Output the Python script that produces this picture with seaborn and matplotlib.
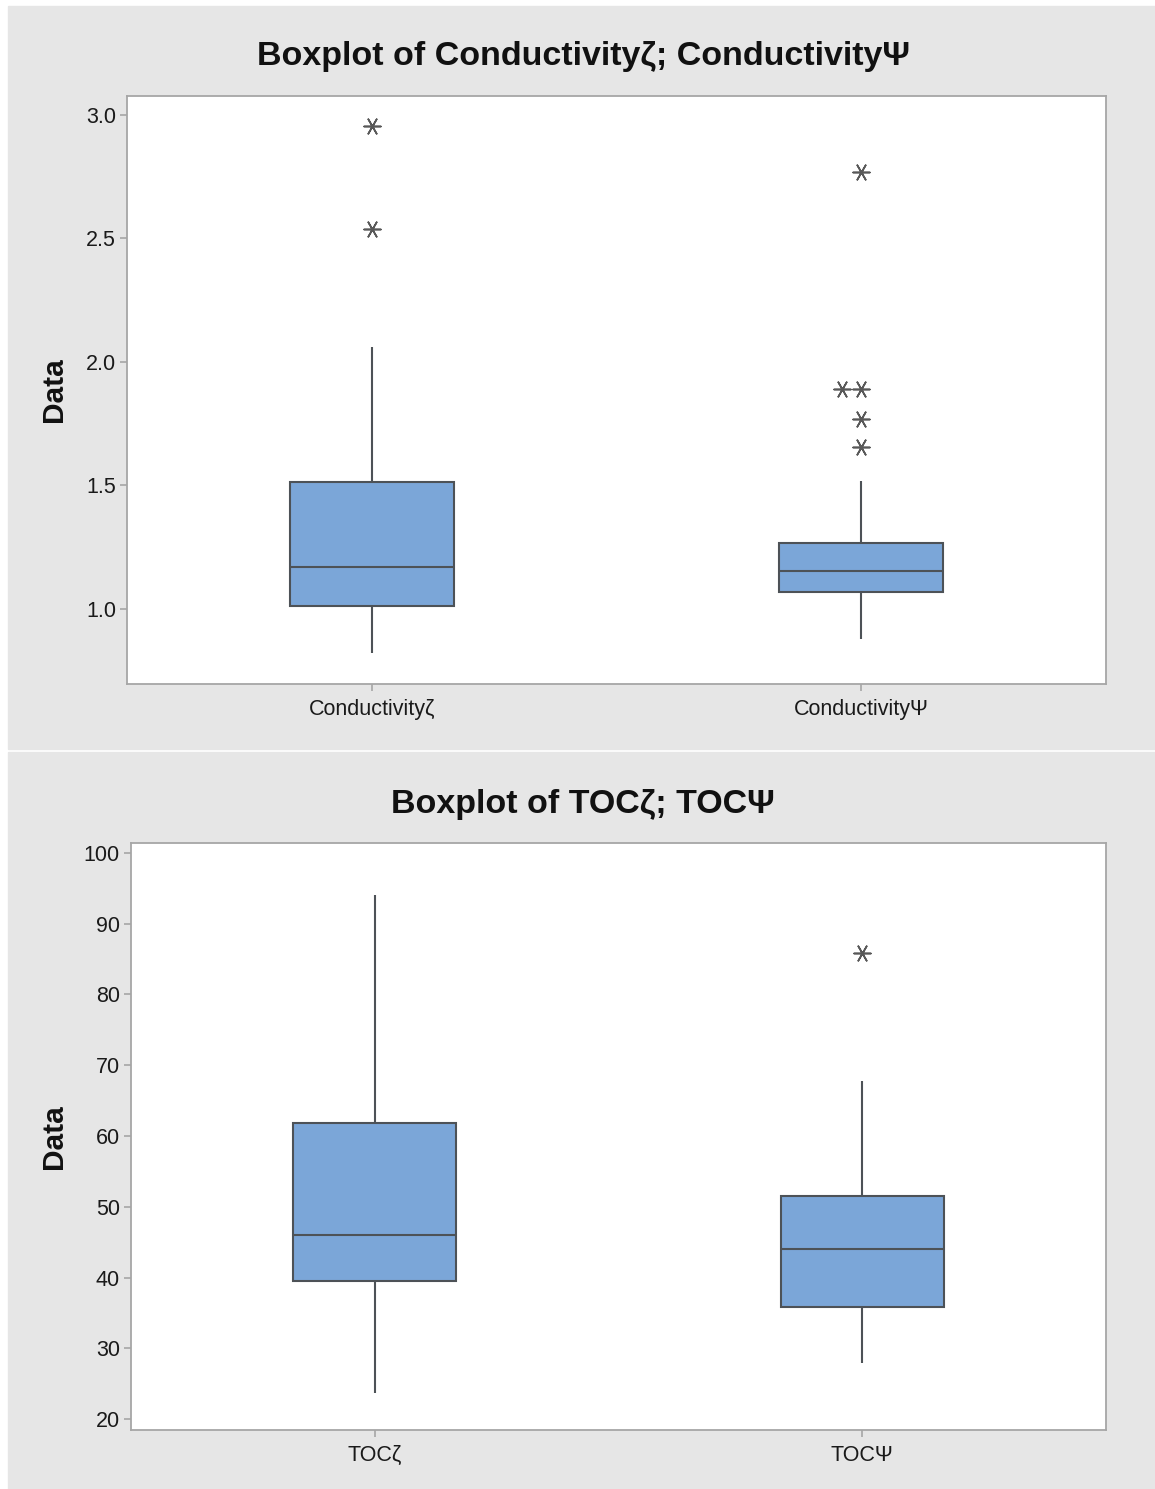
import numpy as np
import pandas as pd
import seaborn as sns
import matplotlib.pyplot as plt
from matplotlib.patches import Rectangle

# values (hand-picked so the quartiles / whiskers match)
cond_names = ['Conductivityζ', 'ConductivityΨ']
cond_zeta = [0.82, 0.93, 0.98, 1.012, 1.08, 1.13, 1.17, 1.24, 1.36, 1.514,
             2.06, 2.54, 2.955]
cond_psi = [0.88, 0.95, 0.99, 1.02, 1.04, 1.06, 1.07, 1.09, 1.10, 1.12, 1.13,
            1.14, 1.155, 1.17, 1.19, 1.21, 1.23, 1.25, 1.265, 1.52, 1.656,
            1.769, 1.891, 1.891, 2.769]
cond_ticks = [1.0, 1.5, 2.0, 2.5, 3.0]

toc_names = ['TOCζ', 'TOCΨ']
toc_zeta = [23.7, 30.5, 35.2, 39.5, 42.0, 44.3, 46.0, 50.1, 55.8, 61.9,
            72.4, 83.0, 94.1]
toc_psi = [27.9, 31.0, 33.6, 35.8, 39.2, 41.5, 44.1, 46.7, 49.0, 51.5,
           58.3, 67.8, 85.9]
toc_ticks = [20, 30, 40, 50, 60, 70, 80, 90, 100]

BOX_BLUE = '#7BA6D8'
LINE_GRAY = '#4d5257'
STAR_GRAY = '#585858'
SPINE_GRAY = '#a6a6a6'
PANEL_GRAY = '#e6e6e6'

sns.set_theme(style='white')
plt.rcParams['font.family'] = ['Liberation Sans', 'DejaVu Sans']


def long_form(names, *series):
    rows = []
    for n, vals in zip(names, series):
        rows += [(n, v) for v in vals]
    return pd.DataFrame(rows, columns=['var', 'value'])


def outliers(df):
    parts = []
    for _, grp in df.groupby('var', sort=False):
        q1, q3 = np.percentile(grp['value'], [25, 75])
        iqr = q3 - q1
        mask = (grp['value'] > q3 + 1.5 * iqr) | (grp['value'] < q1 - 1.5 * iqr)
        parts.append(grp[mask])
    return pd.concat(parts)


def draw_panel(ax, df, names, ticks, ylim, title, title_y, label_x):
    sns.boxplot(data=df, x='var', y='value', order=names, ax=ax, width=0.335,
                color=BOX_BLUE, saturation=1, linecolor=LINE_GRAY,
                linewidth=1.5, showfliers=False, showcaps=False)
    fl = outliers(df)
    # swarm puts tied outliers side by side, like the original
    sns.swarmplot(data=fl, x='var', y='value', order=names, ax=ax,
                  marker=(6, 2, 90), size=12, color=STAR_GRAY,
                  edgecolor=STAR_GRAY, linewidth=1.2)
    ax.set_xlim(-0.5, 1.5)
    ax.set_ylim(*ylim)
    ax.set_yticks(ticks)
    ax.set_yticklabels([str(t) for t in ticks])
    ax.set_xlabel('')
    ax.set_ylabel('Data', fontsize=21.5, fontweight='bold', color='#111111')
    ax.yaxis.set_label_coords(label_x, 0.5)
    ax.set_facecolor('white')
    for s in ax.spines.values():
        s.set_color(SPINE_GRAY)
        s.set_linewidth(1.3)
    ax.tick_params(axis='both', bottom=True, left=True, length=5, width=1.2,
                   color=SPINE_GRAY, labelsize=15.5, labelcolor='#1a1a1a',
                   pad=3)
    ax.tick_params(axis='x', pad=6)
    fig.text(0.505, title_y, title, ha='center', va='center', fontsize=24.5,
             fontweight='bold', color='#111111')


fig = plt.figure(figsize=(11.55, 14.89), dpi=100)
fig.patch.set_facecolor('white')
W, H = 1155, 1489
fig.patches.append(Rectangle((8 / W, 1 - 749 / H), 1, (749 - 6) / H,
                             transform=fig.transFigure, color=PANEL_GRAY,
                             zorder=-10))
fig.patches.append(Rectangle((8 / W, 0), 1, 1 - 752 / H,
                             transform=fig.transFigure, color=PANEL_GRAY,
                             zorder=-10))

ax1 = fig.add_axes([127 / W, 1 - 684 / H, 979 / W, 588 / H])
ax2 = fig.add_axes([131 / W, 1 - 1430 / H, 975 / W, 587 / H])

cond_df = long_form(cond_names, cond_zeta, cond_psi)
toc_df = long_form(toc_names, toc_zeta, toc_psi)

draw_panel(ax1, cond_df, cond_names, cond_ticks, (0.696, 3.077),
           'Boxplot of Conductivityζ; ConductivityΨ', 1 - 57 / H, -0.060)
draw_panel(ax2, toc_df, toc_names, toc_ticks, (18.45, 101.41),
           'Boxplot of TOCζ; TOCΨ', 1 - 804 / H, -0.0646)

fig.savefig('out.png', dpi=100, facecolor=fig.get_facecolor())
